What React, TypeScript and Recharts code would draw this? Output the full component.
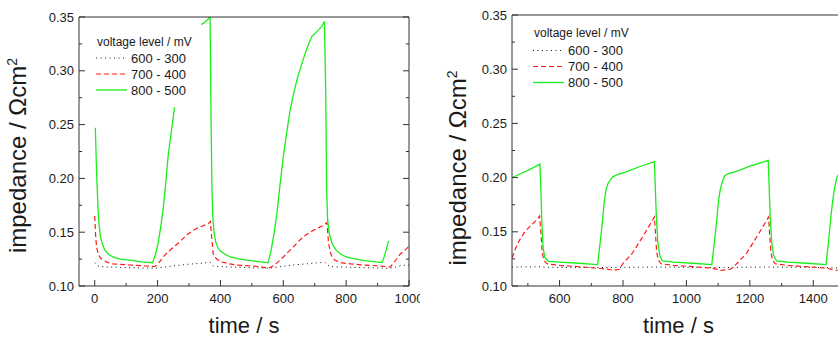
import React from "react";
import { LineChart, Line, XAxis, YAxis } from "recharts";

type Pt = [number, number | null];

// left panel, 0 - 1000 s
const LEFT_600_300: Pt[] = [
  [0, 0.1217], [8, 0.119], [16, 0.118], [60, 0.1175], [120, 0.117], [190, 0.1165],
  [220, 0.1175], [260, 0.119], [300, 0.1203], [335, 0.121], [365, 0.122], [370, 0.1215],
  [378, 0.1185], [400, 0.118], [450, 0.1175], [500, 0.117], [555, 0.1165], [590, 0.118],
  [630, 0.1195], [670, 0.1205], [705, 0.1215], [732, 0.122], [738, 0.1205], [748, 0.118],
  [800, 0.1175], [860, 0.117], [930, 0.1165], [950, 0.117], [975, 0.119], [1000, 0.1195],
];

const LEFT_700_400: Pt[] = [
  [0, 0.165], [3, 0.146], [6, 0.136], [11, 0.13], [18, 0.126], [27, 0.124], [40, 0.122],
  [58, 0.1205], [112, 0.1195], [165, 0.1186], [191, 0.118], [205, 0.122], [218, 0.127],
  [234, 0.132], [250, 0.1358], [270, 0.141], [293, 0.1475], [310, 0.151], [324, 0.1535],
  [345, 0.156], [362, 0.158], [368, 0.16], [372, 0.146], [377, 0.13], [385, 0.126],
  [399, 0.1226], [425, 0.1208], [452, 0.1195], [490, 0.1188], [526, 0.118], [553, 0.1164],
  [570, 0.119], [590, 0.124], [610, 0.13], [633, 0.1365], [650, 0.142], [665, 0.146],
  [685, 0.15], [707, 0.1535], [725, 0.156], [739, 0.159], [744, 0.1397], [750, 0.131],
  [755, 0.127], [765, 0.124], [781, 0.1217], [815, 0.1205], [856, 0.1195], [900, 0.1188],
  [930, 0.118], [940, 0.1175], [950, 0.121], [973, 0.13], [990, 0.134], [1000, 0.137],
];

const LEFT_800_500: Pt[] = [
  [2, 0.247], [5, 0.215], [8, 0.19], [11, 0.17], [14, 0.157], [18, 0.146], [24, 0.139],
  [32, 0.1335], [44, 0.1295], [58, 0.127], [80, 0.125], [112, 0.124], [150, 0.1225],
  [184, 0.1215], [195, 0.131], [202, 0.14], [210, 0.155], [218, 0.172], [226, 0.196],
  [234, 0.222], [244, 0.244], [254, 0.266], [256, null], [338, null], [339, 0.343],
  [350, 0.345], [361, 0.348], [367, 0.352], [370, 0.26], [373, 0.19], [376, 0.163],
  [380, 0.149], [385, 0.141], [392, 0.1355], [400, 0.1325], [412, 0.13], [431, 0.127],
  [455, 0.1255], [484, 0.124], [515, 0.1228], [551, 0.1215], [560, 0.131], [570, 0.148],
  [580, 0.168], [590, 0.195], [600, 0.22], [611, 0.243], [622, 0.264], [633, 0.279],
  [643, 0.291], [654, 0.302], [665, 0.312], [678, 0.323], [691, 0.332], [702, 0.335],
  [712, 0.338], [722, 0.341], [731, 0.346], [735, 0.28], [738, 0.19], [741, 0.162],
  [746, 0.149], [755, 0.1397], [766, 0.134], [781, 0.13], [800, 0.127], [824, 0.1255],
  [855, 0.1238], [888, 0.1226], [914, 0.1217], [922, 0.128], [928, 0.134], [935, 0.142],
];

// right panel, 450 - 1500 s
const RIGHT_600_300: Pt[] = [
  [450, 0.1175], [540, 0.1178], [560, 0.1172], [720, 0.117], [900, 0.1175], [1080, 0.117],
  [1260, 0.1175], [1440, 0.117], [1500, 0.1165],
];

const RIGHT_700_400: Pt[] = [
  [450, 0.126], [462, 0.135], [473, 0.142], [490, 0.15], [510, 0.156], [525, 0.16],
  [537, 0.1645], [541, 0.15], [545, 0.132], [550, 0.124], [560, 0.1205], [600, 0.119],
  [660, 0.1178], [720, 0.1165], [750, 0.1155], [770, 0.1145], [790, 0.1155], [800, 0.121],
  [829, 0.13], [861, 0.145], [887, 0.1576], [899, 0.1637], [902, 0.15], [906, 0.132],
  [911, 0.124], [920, 0.1205], [960, 0.119], [1020, 0.1178], [1080, 0.1165], [1110, 0.1145],
  [1140, 0.1155], [1160, 0.121], [1189, 0.13], [1221, 0.145], [1247, 0.1576], [1259, 0.1637],
  [1262, 0.15], [1266, 0.132], [1271, 0.124], [1280, 0.1205], [1320, 0.119], [1380, 0.1178],
  [1440, 0.1165], [1470, 0.1145], [1500, 0.1155],
];

const RIGHT_800_500: Pt[] = [
  [450, 0.2], [480, 0.204], [510, 0.208], [538, 0.2124], [541, 0.19], [544, 0.16],
  [548, 0.135], [554, 0.126], [565, 0.1228], [600, 0.122], [660, 0.121], [720, 0.1198],
  [726, 0.135], [731, 0.148], [736, 0.162], [741, 0.178], [746, 0.188], [752, 0.194],
  [760, 0.198], [768, 0.2007], [780, 0.2025], [810, 0.2053], [852, 0.21], [899, 0.2148],
  [902, 0.19], [905, 0.165], [910, 0.14], [916, 0.128], [924, 0.1232], [960, 0.122],
  [1020, 0.121], [1080, 0.1198], [1086, 0.135], [1091, 0.148], [1096, 0.162], [1101, 0.178],
  [1106, 0.188], [1112, 0.195], [1120, 0.2015], [1130, 0.2035], [1160, 0.206], [1200, 0.2105],
  [1258, 0.2158], [1261, 0.19], [1264, 0.165], [1269, 0.14], [1275, 0.128], [1284, 0.1232],
  [1320, 0.122], [1380, 0.121], [1440, 0.1198], [1446, 0.135], [1451, 0.15], [1456, 0.165],
  [1461, 0.178], [1467, 0.19], [1474, 0.2], [1485, 0.206], [1500, 0.209],
];

const LEFT_X_TICKS = [0, 100, 200, 300, 400, 500, 600, 700, 800, 900, 1000];
const RIGHT_X_TICKS = [500, 600, 700, 800, 900, 1000, 1100, 1200, 1300, 1400, 1500];
const Y_TICKS = [0.1, 0.125, 0.15, 0.175, 0.2, 0.225, 0.25, 0.275, 0.3, 0.325, 0.35];

const SERIES = [
  { name: "600 - 300", color: "#111111", dash: "1 3.5", width: 1 },
  { name: "700 - 400", color: "#ff1a1a", dash: "5 3", width: 1.2 },
  { name: "800 - 500", color: "#19ee19", dash: undefined, width: 1.3 },
];

const FONT = '"Liberation Sans", Arial, sans-serif';
const AXIS = "#333";
const TEXT = "#1a1a1a";

const toRows = (pts: Pt[]) => pts.map(([t, v]) => ({ t, v }));

type Side = "bottom" | "top" | "left" | "right";

// ticks point inward; labels only on the bottom/left majors
function makeTick(side: Side, isMajor: (v: number) => boolean, fmt?: (v: number) => string) {
  return (p: any) => {
    const { x, y } = p;
    const v = p.payload.value;
    const major = isMajor(v);
    const len = major ? 6 : 3;
    let x2 = x;
    let y2 = y;
    if (side === "bottom") y2 = y - len;
    if (side === "top") y2 = y + len;
    if (side === "left") x2 = x + len;
    if (side === "right") x2 = x - len;
    return (
      <g>
        <line x1={x} y1={y} x2={x2} y2={y2} stroke={AXIS} strokeWidth={1} />
        {fmt && major && side === "bottom" && (
          <text x={x} y={y + 17} textAnchor="middle" fontSize={13} fontFamily={FONT} fill={TEXT}>
            {fmt(v)}
          </text>
        )}
        {fmt && major && side === "left" && (
          <text x={x - 5} y={y + 4.6} textAnchor="end" fontSize={13} fontFamily={FONT} fill={TEXT}>
            {fmt(v)}
          </text>
        )}
      </g>
    );
  };
}

const xMajor = (v: number) => v % 200 === 0;
const yMajor = (v: number) => Math.round(v * 1000) % 50 === 0;

interface PanelProps {
  left: number;
  width: number;
  top: number;
  right: number;
  yAxisWidth: number;
  xDomain: [number, number];
  xTicks: number[];
  lines: Pt[][];
  yTitle: { x: number; y: number };
  legend: { x: number; titleY: number; rowY: number };
}

function Panel(props: PanelProps) {
  const { left, width, top, right, yAxisWidth, xDomain, xTicks, lines, yTitle, legend } = props;
  const plotCenter = yAxisWidth + (width - right - yAxisWidth) / 2;
  // the top and right axes take 1px each, so the margins give that back
  return (
    <div style={{ position: "absolute", left, top: 0, width, height: 337 }}>
      <LineChart width={width} height={337} margin={{ top: top - 1, right: right - 1, bottom: 0, left: 0 }}>
        <XAxis
          xAxisId="b"
          dataKey="t"
          type="number"
          domain={xDomain}
          allowDataOverflow
          ticks={xTicks}
          interval={0}
          height={51}
          tickSize={0}
          tickMargin={0}
          axisLine={{ stroke: AXIS }}
          tick={makeTick("bottom", xMajor, (v) => String(v))}
        />
        <XAxis
          xAxisId="t"
          orientation="top"
          type="number"
          domain={xDomain}
          allowDataOverflow
          ticks={xTicks}
          interval={0}
          height={1}
          tickSize={0}
          tickMargin={0}
          axisLine={{ stroke: AXIS }}
          tick={makeTick("top", xMajor)}
        />
        <YAxis
          yAxisId="l"
          type="number"
          domain={[0.1, 0.35]}
          allowDataOverflow
          ticks={Y_TICKS}
          interval={0}
          width={yAxisWidth}
          tickSize={0}
          tickMargin={0}
          axisLine={{ stroke: AXIS }}
          tick={makeTick("left", yMajor, (v) => v.toFixed(2))}
        />
        <YAxis
          yAxisId="r"
          orientation="right"
          type="number"
          domain={[0.1, 0.35]}
          allowDataOverflow
          ticks={Y_TICKS}
          interval={0}
          width={1}
          tickSize={0}
          tickMargin={0}
          axisLine={{ stroke: AXIS }}
          tick={makeTick("right", yMajor)}
        />
        {SERIES.map((s, i) => (
          <Line
            key={s.name}
            xAxisId="b"
            yAxisId="l"
            data={toRows(lines[i])}
            dataKey="v"
            name={s.name}
            type="linear"
            stroke={s.color}
            strokeWidth={s.width}
            strokeDasharray={s.dash}
            dot={false}
            activeDot={false}
            isAnimationActive={false}
          />
        ))}
      </LineChart>
      <svg
        width={width}
        height={337}
        style={{ position: "absolute", left: 0, top: 0, pointerEvents: "none", fontFamily: FONT }}
      >
        <text x={plotCenter} y={333} textAnchor="middle" fontSize={22} fill={TEXT}>
          time / s
        </text>
        <text
          x={yTitle.x}
          y={yTitle.y}
          transform={`rotate(-90 ${yTitle.x} ${yTitle.y})`}
          textAnchor="middle"
          fontSize={24}
          fill={TEXT}
        >
          impedance / Ωcm
          <tspan dy={-9} fontSize={14}>2</tspan>
        </text>
        <text x={legend.x + 1} y={legend.titleY} fontSize={12} fill={TEXT}>
          voltage level / mV
        </text>
        {SERIES.map((s, i) => {
          const y = legend.rowY + i * 16;
          return (
            <g key={s.name}>
              <line
                x1={legend.x}
                x2={legend.x + 31}
                y1={y}
                y2={y}
                stroke={s.color}
                strokeWidth={s.width}
                strokeDasharray={s.dash}
              />
              <text x={legend.x + 35} y={y + 4.6} fontSize={13} fill={TEXT}>
                {s.name}
              </text>
            </g>
          );
        })}
      </svg>
    </div>
  );
}

export default function App() {
  return (
    <div
      style={{
        position: "absolute",
        left: 0,
        top: 0,
        width: 838,
        height: 337,
        overflow: "hidden",
        background: "#fff",
      }}
    >
      <Panel
        left={0}
        width={420}
        top={17}
        right={11}
        yAxisWidth={79}
        xDomain={[-50, 1000]}
        xTicks={LEFT_X_TICKS}
        lines={[LEFT_600_300, LEFT_700_400, LEFT_800_500]}
        yTitle={{ x: 25.5, y: 155.5 }}
        legend={{ x: 96, titleY: 46, rowY: 58 }}
      />
      <Panel
        left={420}
        width={430}
        top={15}
        right={5}
        yAxisWidth={92}
        xDomain={[450, 1500]}
        xTicks={RIGHT_X_TICKS}
        lines={[RIGHT_600_300, RIGHT_700_400, RIGHT_800_500]}
        yTitle={{ x: 46, y: 168 }}
        legend={{ x: 113, titleY: 37, rowY: 50.5 }}
      />
    </div>
  );
}
